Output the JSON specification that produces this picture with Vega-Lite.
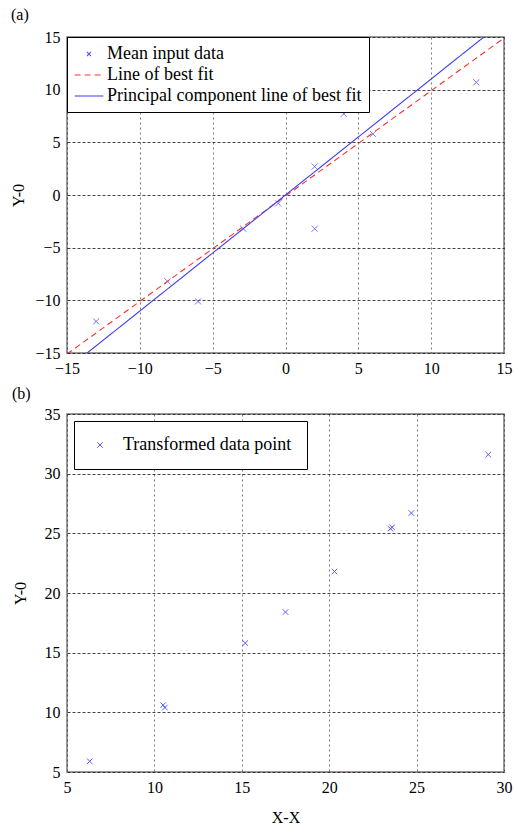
{
  "$schema": "https://vega.github.io/schema/vega-lite/v6.json",
  "background": "white",
  "padding": {"left": 10, "top": 6, "right": 0, "bottom": 2},
  "spacing": 8,
  "resolve": {
    "scale": {"color": "independent", "shape": "independent", "strokeDash": "independent"},
    "legend": {"color": "independent", "shape": "independent", "strokeDash": "independent"}
  },
  "config": {
    "font": "Liberation Serif",
    "view": {"stroke": "#777777", "strokeWidth": 1.5},
    "title": {"font": "Liberation Serif", "fontSize": 16, "fontWeight": "normal", "anchor": "start", "color": "black"},
    "axis": {
      "labelFont": "Liberation Serif", "labelFontSize": 16, "labelColor": "black", "labelFlush": false,
      "titleFont": "Liberation Serif", "titleFontSize": 16, "titleFontWeight": "normal", "titleColor": "black",
      "grid": true, "gridColor": "#222222", "gridWidth": 1,
      "domain": false, "ticks": false, "labelPadding": 7
    },
    "axisX": {"gridDash": [2, 3], "gridOpacity": 0.6},
    "axisY": {"gridDash": [3, 2], "gridOpacity": 0.85},
    "legend": {
      "labelFont": "Liberation Serif", "labelFontSize": 18, "labelColor": "black", "labelLimit": 400,
      "strokeColor": "black", "fillColor": "white", "title": null
    }
  },
  "vconcat": [
    {
      "title": {"text": "(a)", "offset": 6},
      "width": 437,
      "height": 316,
      "layer": [
        {
          "data": {"values": [
            {"series": "Mean input data", "x": -13.0, "y": -12.0},
            {"series": "Mean input data", "x": -8.1, "y": -8.2},
            {"series": "Mean input data", "x": -6.0, "y": -10.1},
            {"series": "Mean input data", "x": -2.9, "y": -3.2},
            {"series": "Mean input data", "x": -0.5, "y": -0.8},
            {"series": "Mean input data", "x": 2.0, "y": 2.7},
            {"series": "Mean input data", "x": 2.0, "y": -3.2},
            {"series": "Mean input data", "x": 4.0, "y": 7.7},
            {"series": "Mean input data", "x": 6.0, "y": 5.8},
            {"series": "Mean input data", "x": 13.1, "y": 10.7}
          ]},
          "mark": {"type": "point", "filled": false, "strokeWidth": 1, "size": 740, "opacity": 1},
          "encoding": {
            "x": {"field": "x", "type": "quantitative", "scale": {"domain": [-15, 15], "nice": false}, "axis": {"title": null, "values": [-15, -10, -5, 0, 5, 10, 15]}},
            "y": {"field": "y", "type": "quantitative", "scale": {"domain": [-15, 15], "nice": false}, "axis": {"title": "Y-0", "values": [-15, -10, -5, 0, 5, 10, 15], "titlePadding": 8}},
            "color": {"field": "series", "type": "nominal", "scale": {"domain": ["Mean input data", "Line of best fit", "Principal component line of best fit"], "range": ["#5a5aff", "#ff3030", "#3c3cf0"]},
              "legend": {"orient": "top-left", "offset": 0, "padding": 7, "symbolSize": 324, "symbolStrokeWidth": 1.2, "symbolOffset": 5, "labelOffset": 8, "rowPadding": 2,
                "encode": {"legend": {"update": {"strokeWidth": {"value": 3.5}}}}}},
            "shape": {"field": "series", "type": "nominal", "scale": {"domain": ["Mean input data", "Line of best fit", "Principal component line of best fit"], "range": ["M-0.22,-0.22L0.22,0.22M-0.22,0.22L0.22,-0.22", "M-1.6,0L1.6,0", "M-1.6,0L1.6,0"]}},
            "strokeDash": {"field": "series", "type": "nominal", "scale": {"domain": ["Mean input data", "Line of best fit", "Principal component line of best fit"], "range": [[1, 0], [6, 4], [1, 0]]}}
          }
        },
        {
          "data": {"values": [
            {"series": "Line of best fit", "x": -15, "y": -15.1},
            {"series": "Line of best fit", "x": 15, "y": 14.9},
            {"series": "Principal component line of best fit", "x": -13.8, "y": -15.2},
            {"series": "Principal component line of best fit", "x": 13.8, "y": 15.2}
          ]},
          "mark": {"type": "line", "clip": true, "strokeWidth": 1.1},
          "encoding": {
            "x": {"field": "x", "type": "quantitative", "scale": {"domain": [-15, 15], "nice": false}},
            "y": {"field": "y", "type": "quantitative", "scale": {"domain": [-15, 15], "nice": false}},
            "color": {"field": "series", "type": "nominal"},
            "strokeDash": {"field": "series", "type": "nominal"}
          }
        }
      ]
    },
    {
      "title": {"text": "(b)", "offset": 4},
      "width": 437,
      "height": 358,
      "data": {"values": [
        {"series": "Transformed data point", "x": 6.3, "y": 5.9},
        {"series": "Transformed data point", "x": 10.5, "y": 10.6},
        {"series": "Transformed data point", "x": 10.6, "y": 10.4},
        {"series": "Transformed data point", "x": 15.2, "y": 15.8},
        {"series": "Transformed data point", "x": 17.5, "y": 18.4},
        {"series": "Transformed data point", "x": 20.3, "y": 21.8},
        {"series": "Transformed data point", "x": 23.6, "y": 25.5},
        {"series": "Transformed data point", "x": 23.5, "y": 25.4},
        {"series": "Transformed data point", "x": 24.7, "y": 26.7},
        {"series": "Transformed data point", "x": 29.1, "y": 31.6}
      ]},
      "mark": {"type": "point", "filled": false, "strokeWidth": 1, "size": 30, "opacity": 1},
      "encoding": {
        "x": {"field": "x", "type": "quantitative", "scale": {"domain": [5, 30], "nice": false}, "axis": {"title": "X-X", "values": [5, 10, 15, 20, 25, 30], "titlePadding": 14}},
        "y": {"field": "y", "type": "quantitative", "scale": {"domain": [5, 35], "nice": false}, "axis": {"title": "Y-0", "values": [5, 10, 15, 20, 25, 30, 35], "titlePadding": 16}},
        "color": {"field": "series", "type": "nominal", "scale": {"domain": ["Transformed data point"], "range": ["#5a5aff"]},
          "legend": {"orient": "top-left", "offset": 7, "padding": 15, "symbolSize": 30, "symbolStrokeWidth": 1, "symbolOffset": 2, "labelOffset": 14,
            "encode": {"legend": {"update": {"strokeWidth": {"value": 3.5}}}}}},
        "shape": {"field": "series", "type": "nominal", "scale": {"domain": ["Transformed data point"], "range": ["M-1,-1L1,1M-1,1L1,-1"]}}
      }
    }
  ]
}
